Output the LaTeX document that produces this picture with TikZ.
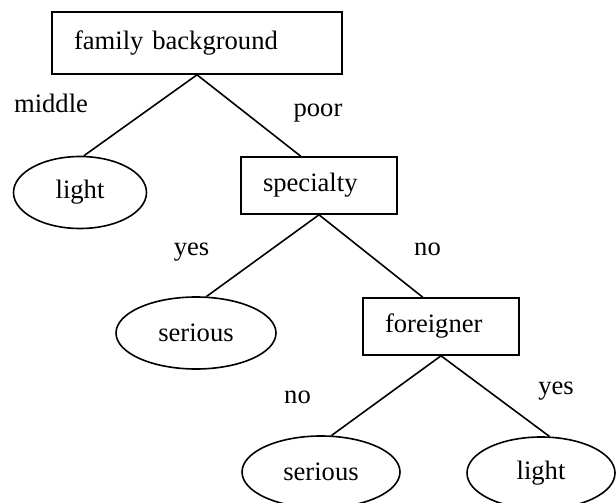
\documentclass[tikz,border=0pt]{standalone}
\usepackage{fontspec}
\setmainfont{Liberation Serif}
\usepackage{tikz}
\usetikzlibrary{shapes.geometric}
\tikzset{
  attr/.style  = {draw, rectangle, line width=1.6pt, align=left,
                  inner xsep=22pt, inner ysep=0pt, minimum height=57pt},
  leaf/.style  = {draw, ellipse, line width=1.6pt, inner sep=0pt,
                  minimum height=72pt},
  edge/.style  = {line width=1.6pt},
  val/.style   = {anchor=base, inner sep=0pt}
}

\begin{document}
\begin{tikzpicture}[x=1pt, y=-1pt, font=\fontsize{26.6}{32}\selectfont]
\useasboundingbox (0,0) rectangle (616,503);

% ---------- root ----------
\node[attr, text width=246pt, minimum height=62pt] (fam) at (197,43) {family background};

% ---------- level 1 ----------
\node[leaf, minimum width=133pt] (light1) at (80,192.5) {light};
\node[attr, text width=112pt] (spec) at (319,185.5) {specialty};

% ---------- level 2 ----------
\node[leaf, minimum width=160pt] (ser1) at (196,333) {serious};
\node[attr, text width=112pt] (forg) at (441,326.5) {foreigner};

% ---------- level 3 ----------
\node[leaf, minimum width=158pt] (ser2) at (321,472) {serious};
\node[leaf, minimum width=148pt] (light2) at (541,473) {light};

% ---------- branches ----------
\draw[edge] (fam.south) -- (light1.84);
\draw[edge] (fam.south) -- (spec.122);
\draw[edge] (spec.south) -- (ser1.74);
\draw[edge] (spec.south) -- (forg.122);
\draw[edge] (forg.south) -- (ser2.74);
\draw[edge] (forg.south) -- (light2.77);

% branch values
\node[val] (lmid)  at (51,113)    {middle};
\node[val] (lpoor) at (318,117)   {poor};
\node[val] (lyesa) at (191.5,255) {yes};
\node[val] (lnoa)  at (427.5,255) {no};
\node[val] (lnob)  at (297.5,403) {no};
\node[val] (lyesb) at (556,394)   {yes};

\end{tikzpicture}
\end{document}
